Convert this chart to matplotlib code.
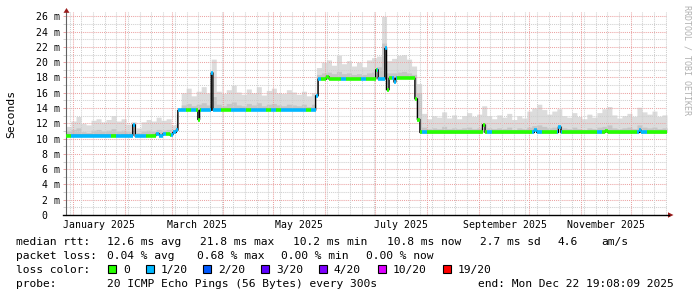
import numpy as np
import matplotlib
matplotlib.use('Agg')
import matplotlib.pyplot as plt
import matplotlib.dates as mdates
from matplotlib.collections import LineCollection
from matplotlib.patches import Rectangle, Polygon
from matplotlib.lines import Line2D
from datetime import datetime, timedelta

W, H = 697, 297
MONO = 'DejaVu Sans Mono'

# time frame of the graph
end_time = datetime(2025, 12, 22, 19, 8, 9)
span_days = 360
start_time = end_time - timedelta(days=span_days)
bin_days = 3

# median rtt (ms) as steps: day offset from start, value from there on
med_day = [0, 31, 33, 40, 41.3, 51, 54, 56, 58, 62, 64, 65.8, 67, 79, 80, 87, 88, 104, 107,
           149.5, 150.7, 156, 157.3, 185.4, 186.6, 190.8, 192, 193.2, 196.2, 197.4, 208.7, 210.5, 211.7,
           249.4, 250.6, 280.5, 281.7, 294.9, 296.1, 323, 324.2, 343.3, 344.5]
med_ms = [10.4, 10.3, 10.4, 11.8, 10.3, 10.4, 10.6, 10.4, 10.6, 10.5, 10.8, 11.1, 13.7, 12.5, 13.7, 18.6, 13.7, 13.8, 13.7,
          15.6, 17.8, 18.1, 17.8, 19.0, 17.8, 21.8, 16.4, 17.9, 17.4, 17.9, 15.2, 12.5, 10.8,
          11.8, 10.8, 11.1, 10.8, 11.5, 10.8, 11.0, 10.8, 11.1, 10.8]

# smoke top (slowest ping) per 3 day bin, ms
smoke_hi = [11.6, 12.3, 12.9, 12.0, 11.8, 12.4, 12.6, 12.2, 12.5, 13.0,
            12.3, 12.6, 11.9, 12.2, 11.4, 12.2, 12.5, 12.3, 12.8, 12.4,
            12.6, 11.8, 13.2, 16.0, 16.6, 15.6, 16.2, 16.8, 16.0, 20.4,
            16.2, 15.9, 16.4, 17.0, 16.1, 15.8, 16.5, 16.0, 16.8, 15.7,
            16.3, 16.6, 16.0, 15.9, 16.4, 16.1, 15.8, 16.2, 15.6, 16.0,
            19.3, 20.0, 20.3, 19.6, 20.9, 19.8, 20.2, 19.5, 20.0, 19.4,
            20.3, 20.6, 20.8, 26.0, 20.2, 20.5, 20.9, 21.0, 20.4, 19.5,
            17.2, 13.3, 12.6, 13.0, 12.8, 13.5, 12.7, 13.1, 12.6, 13.0,
            13.4, 12.9, 13.2, 14.3, 13.0, 12.6, 13.1, 12.8, 13.3, 12.5,
            13.0, 12.7, 13.6, 14.0, 14.5, 13.8, 13.2, 13.6, 13.9, 13.0,
            12.8, 13.4, 12.9, 12.6, 13.2, 12.8, 13.4, 13.9, 14.2, 13.1,
            12.7, 13.0, 13.3, 12.9, 14.1, 13.5, 13.2, 13.6, 12.9, 13.1]

# denser smoke (upper quartile) per bin, ms
smoke_q3 = [11.0, 11.2, 11.4, 10.9, 10.8, 11.1, 11.2, 11.0, 11.1, 11.3,
            11.0, 11.1, 10.9, 11.1, 10.8, 11.0, 11.1, 11.0, 11.2, 11.1,
            11.2, 11.0, 12.0, 14.4, 14.6, 14.3, 14.5, 14.7, 14.4, 15.5,
            14.5, 14.3, 14.6, 14.8, 14.4, 14.3, 14.6, 14.4, 14.7, 14.3,
            14.5, 14.6, 14.4, 14.3, 14.5, 14.4, 14.3, 14.5, 14.2, 14.5,
            18.4, 18.6, 18.7, 18.5, 18.8, 18.5, 18.6, 18.4, 18.5, 18.4,
            18.6, 18.7, 19.4, 22.5, 18.6, 18.6, 18.7, 18.8, 18.6, 18.4,
            16.0, 11.5, 11.3, 11.4, 11.3, 11.6, 11.3, 11.4, 11.3, 11.4,
            11.5, 11.3, 11.4, 11.9, 11.4, 11.3, 11.4, 11.3, 11.5, 11.2,
            11.4, 11.3, 11.5, 11.7, 11.8, 11.6, 11.4, 11.5, 11.7, 11.4,
            11.3, 11.5, 11.3, 11.2, 11.4, 11.3, 11.5, 11.6, 11.8, 11.4,
            11.3, 11.4, 11.5, 11.3, 11.8, 11.5, 11.4, 11.5, 11.3, 11.4]

# lost pings (out of 20) per bin
loss = [0, 1, 1, 1, 1, 1, 1, 1, 1, 0,
        1, 1, 1, 1, 1, 1, 0, 0, 1, 1,
        0, 1, 1, 1, 0, 1, 0, 1, 1, 1,
        1, 0, 0, 1, 1, 1, 0, 1, 1, 1,
        0, 1, 0, 1, 1, 1, 1, 1, 0, 1,
        1, 0, 0, 0, 0, 1, 0, 0, 0, 1,
        0, 0, 1, 1, 0, 1, 0, 0, 0, 0,
        0, 1, 0, 0, 0, 0, 0, 0, 0, 0,
        0, 0, 0, 0, 1, 0, 0, 0, 0, 0,
        0, 0, 0, 1, 1, 0, 0, 0, 1, 0,
        0, 0, 0, 0, 0, 0, 1, 0, 0, 0,
        0, 0, 0, 0, 1, 1, 0, 0, 0, 0]

loss_levels = ['0', '1/20', '2/20', '3/20', '4/20', '10/20', '19/20']
loss_counts = [0, 1, 2, 3, 4, 10, 19]
loss_colors = ['#26ff00', '#00b8ff', '#0059ff', '#5e00ff', '#7e00ff', '#dd00ff', '#ff0000']

y_ticks = list(range(0, 27, 2))
month_labels = ['January 2025', 'March 2025', 'May 2025', 'July 2025', 'September 2025', 'November 2025']
label_months = [1, 3, 5, 7, 9, 11]

MGRID = '#eba3a3'
GRID = '#cfcfcf'


def fx(px):
    return px / W


def fy(py):
    return 1 - py / H


fig = plt.figure(figsize=(W / 100, H / 100), dpi=100)
ax = fig.add_axes([fx(66), fy(215), 601 / W, 203 / H])

x0 = mdates.date2num(start_time)
t = np.arange(0, span_days, 0.5)
idx = np.searchsorted(med_day, t, side='right') - 1
m = np.array(med_ms)[idx]
b = (t // bin_days).astype(int)
hi = np.maximum(np.array(smoke_hi)[b], m)
q3 = np.maximum(np.array(smoke_q3)[b], m)
lb = np.array(loss)[b]

xs = np.append(x0 + t, x0 + span_days)
ms = np.append(m, m[-1])
ax.fill_between(xs, ms, np.append(hi, hi[-1]), step='post', color='#dcdcdc', lw=0, zorder=1)
ax.fill_between(xs, ms, np.append(q3, q3[-1]), step='post', color='#c6c6c6', lw=0, zorder=1)

# grid
for v in range(1, 27):
    ax.axhline(v, color=MGRID if v % 2 == 0 else GRID, lw=0.75, ls=(0, (1, 1)), zorder=2)
d = start_time.replace(hour=0, minute=0, second=0)
while d < end_time:
    if d > start_time:
        if d.day == 1:
            ax.axvline(mdates.date2num(d), color=MGRID, lw=0.75, ls=(0, (1, 1)), zorder=2.1)
        elif d.weekday() == 0:
            ax.axvline(mdates.date2num(d), color=GRID, lw=0.75, ls=(0, (1, 1)), zorder=2)
    d += timedelta(days=1)

# median line
ax.step(xs, ms, where='post', color='black', lw=1.0, zorder=3)
segs = [[(xs[i], m[i]), (xs[i + 1], m[i])] for i in range(len(m))]
cmap = dict(zip(loss_counts, loss_colors))
cols = [cmap[v] for v in lb]
ax.add_collection(LineCollection(segs, colors=cols, linewidths=2.6, capstyle='butt', zorder=4))

ax.set_xlim(x0, x0 + span_days)
ax.set_ylim(0, 203 / 7.64)

ax.set_yticks(y_ticks)
ax.set_yticklabels([f'{v} m' if v else '0  ' for v in y_ticks], family=MONO, fontsize=7.1)
ax.set_yticks(range(1, 27, 2), minor=True)
ax.tick_params(axis='y', which='major', length=2.2, width=0.7, color=MGRID, pad=2.2)
ax.tick_params(axis='y', which='minor', length=2.2, width=0.7, color=GRID)
ax.set_xticks([mdates.date2num(datetime(2025, mo, 16, 12)) for mo in label_months])
ax.set_xticklabels(month_labels, family=MONO, fontsize=7.1)
ax.tick_params(axis='x', length=0, pad=3.6)

for s in ['top', 'right']:
    ax.spines[s].set_visible(False)
ax.spines['left'].set_color('#606060')
ax.spines['left'].set_linewidth(0.8)
ax.spines['bottom'].set_visible(False)
fig.add_artist(Line2D([fx(63), fx(669)], [fy(215), fy(215)], color='black', lw=1.0))
fig.add_artist(Polygon([(fx(668), fy(212.3)), (fx(668), fy(217.7)), (fx(673.5), fy(215))],
                       closed=True, color='#9b1c1c', lw=0))
fig.add_artist(Polygon([(fx(63.5), fy(12.8)), (fx(69.5), fy(12.8)), (fx(66.5), fy(8))],
                       closed=True, color='#9b1c1c', lw=0))

fig.text(fx(11), fy(113.5), 'Seconds', rotation=90, family=MONO, fontsize=8.2,
         ha='center', va='center')
fig.text(fx(687.5), fy(60), 'RRDTOOL / TOBI OETIKER', rotation=270, family=MONO, fontsize=6,
         ha='center', va='center', color='#b0b0b0')

# legend block
fs = 8.1
rows = [245, 259, 273, 287]
fig.text(fx(16), fy(rows[0]), 'median rtt:', family=MONO, fontsize=fs, va='baseline')
for px, s in [(107, '12.6 ms avg'), (200, '21.8 ms max'), (293, '10.2 ms min'),
              (387, '10.8 ms now'), (479.5, '2.7 ms sd'), (558, '4.6'), (601, 'am/s')]:
    fig.text(fx(px), fy(rows[0]), s, family=MONO, fontsize=fs, va='baseline')
fig.text(fx(16), fy(rows[1]), 'packet loss:', family=MONO, fontsize=fs, va='baseline')
for px, s in [(107, '0.04 % avg'), (197, '0.68 % max'), (281, '0.00 % min'), (366, '0.00 % now')]:
    fig.text(fx(px), fy(rows[1]), s, family=MONO, fontsize=fs, va='baseline')
fig.text(fx(16), fy(rows[2]), 'loss color:', family=MONO, fontsize=fs, va='baseline')
sq_x = [108, 146, 203, 261, 319, 378, 443]
for px, lab, c in zip(sq_x, loss_levels, loss_colors):
    fig.add_artist(Rectangle((fx(px), fy(273)), 8 / W, 8 / H, facecolor=c,
                             edgecolor='black', lw=0.8))
    fig.text(fx(px + 15), fy(rows[2]), lab, family=MONO, fontsize=fs, va='baseline')
fig.text(fx(16), fy(rows[3]), 'probe:', family=MONO, fontsize=fs, va='baseline')
fig.text(fx(107), fy(rows[3]), '20 ICMP Echo Pings (56 Bytes) every 300s', family=MONO,
         fontsize=fs, va='baseline')
fig.text(fx(478), fy(rows[3]), 'end: Mon Dec 22 19:08:09 2025', family=MONO,
         fontsize=fs, va='baseline')

fig.savefig('out.png', dpi=100)
